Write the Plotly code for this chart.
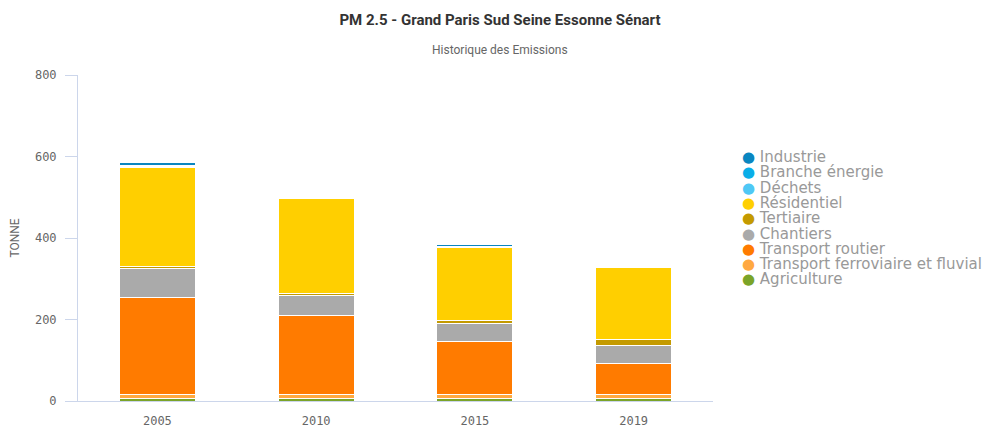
import plotly.graph_objects as go

# historique des emissions PM 2.5 (tonnes)
annees = ["2005", "2010", "2015", "2019"]

agriculture = [6, 6, 6, 6]
transport_ferroviaire = [9, 9, 9, 9]
transport_routier = [238, 194, 130, 77]
chantiers = [73, 49, 44, 44]
tertiaire = [3, 6, 8, 16]
residentiel = [245, 232, 180, 175]
dechets = [2, 3, 2, 2]
branche_energie = [1, 1, 1, 1]
industrie = [8, 2, 3, 2]

# bottom of the stack first
series = [
    ("Agriculture", agriculture, "#7ba428"),
    ("Transport ferroviaire et fluvial", transport_ferroviaire, "#ffa940"),
    ("Transport routier", transport_routier, "#ff7b00"),
    ("Chantiers", chantiers, "#aaaaaa"),
    ("Tertiaire", tertiaire, "#c49a00"),
    ("Résidentiel", residentiel, "#ffcf00"),
    ("Déchets", dechets, "#4fc8f5"),
    ("Branche énergie", branche_energie, "#0aaee8"),
    ("Industrie", industrie, "#0a86c0"),
]

fig = go.Figure()
for name, vals, col in series:
    fig.add_trace(go.Bar(
        x=annees, y=vals, name=name,
        marker=dict(color=col, line=dict(color="#ffffff", width=1)),
        showlegend=False,
    ))

# the page puts the chart 8px in from the top left corner
OFF = 8
L, R, T, B = 78 - OFF, 277 + OFF, 75 - OFF, 25 + OFF
pw = 990 - L - R
ph = 426 - T - B
bottom = 426 - B

# hand made legend, top item = Industrie
for i, (name, vals, col) in enumerate(reversed(series)):
    py = 157 + 15.3 * i - OFF
    fig.add_annotation(
        xref="paper", yref="paper",
        x=(740 - OFF - L) / pw, y=(bottom - py) / ph,
        xanchor="left", yanchor="middle", showarrow=False,
        text='<span style="color:%s">●</span> %s' % (col, name),
        font=dict(family="DejaVu Sans", size=15, color="#999999"),
    )

fig.add_annotation(
    xref="paper", yref="paper", x=(500 - OFF - L) / pw, y=(bottom - (50 - OFF)) / ph,
    xanchor="center", yanchor="middle", showarrow=False,
    text="Historique des Emissions",
    font=dict(family="Roboto", size=12, color="#666666"),
)

fig.update_layout(
    width=990, height=426,
    margin=dict(l=L, r=R, t=T, b=B, pad=0),
    barmode="stack",
    bargap=0.52,
    plot_bgcolor="#ffffff",
    paper_bgcolor="#ffffff",
    title=dict(
        text="<b>PM 2.5 - Grand Paris Sud Seine Essonne Sénart</b>",
        x=(500 - OFF) / 990, xanchor="center",
        y=1 - (20 - OFF) / 426, yanchor="middle",
        font=dict(family="Roboto", size=15, color="#333333"),
    ),
    xaxis=dict(
        showline=True, linecolor="#ccd6eb", linewidth=1,
        showgrid=False, zeroline=False, ticks="",
        ticklabelstandoff=9, automargin=False,
        tickfont=dict(family="DejaVu Sans Mono", size=12, color="#666666"),
    ),
    yaxis=dict(
        range=[0, 800], dtick=200,
        showline=True, linecolor="#ccd6eb", linewidth=1,
        showgrid=False, zeroline=False, automargin=False,
        ticks="outside", ticklen=12, tickcolor="#ccd6eb",
        ticklabelstandoff=6,
        tickfont=dict(family="DejaVu Sans Mono", size=12, color="#666666"),
        title=dict(text="TONNE", standoff=14,
                   font=dict(family="Roboto", size=12, color="#666666")),
    ),
)

fig.write_html("out.html")
